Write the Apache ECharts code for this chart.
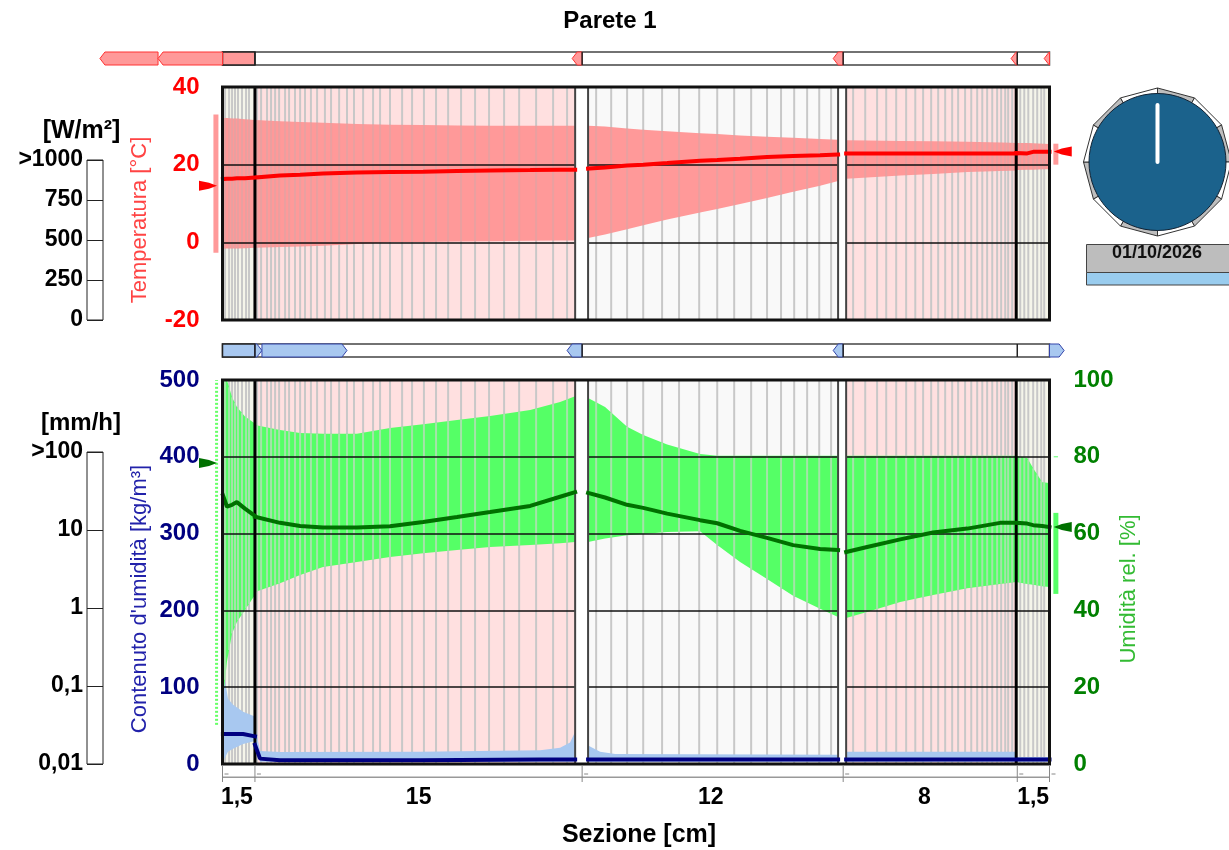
<!DOCTYPE html>
<html>
<head>
<meta charset="utf-8">
<style>
  html, body { margin: 0; padding: 0; background: #fff; }
  #chart { width: 1229px; height: 850px; }
</style>
<script src="https://cdn.jsdelivr.net/npm/echarts@6/dist/echarts.min.js"></script>
</head>
<body>
<div id="chart"></div>
<script>
// strati, in cm dal bordo esterno
const layerEdges = [0, 1.53, 16.63, 17.24, 29.03, 29.41, 37.43, 39]
const layerKinds = ['plaster', 'brick', 'gap', 'wood', 'gap', 'brick', 'plaster']
const stripEdges = [1.53, 16.96, 29.27, 37.48]
const sectionX = [0.68, 9.25, 23.03, 33.1, 38.23]
const sectionLabels = ['1,5', '15', '12', '8', '1,5']

// griglia di calcolo
const cellEdges = [
  0.12, 0.31, 0.45, 0.59, 0.73, 0.92, 1.11, 1.25,
  1.63, 1.82, 2.10, 2.29, 2.48, 2.67, 2.95, 3.14, 3.42, 3.66, 3.89, 4.17, 4.46, 4.83, 5.12, 5.50, 5.87, 6.20, 6.63, 7.10, 7.43, 7.90,
  8.47, 8.94, 9.50, 10.07, 10.64, 11.25, 11.91, 12.57, 13.28, 13.99, 14.79, 15.59, 16.25,
  17.62, 18.33, 19.08, 19.84, 20.73, 21.53, 22.48, 23.33, 24.13, 24.93, 25.68, 26.34, 26.96, 27.57, 28.14, 28.70,
  29.74, 30.31, 30.87, 31.30, 31.77, 32.24, 32.67, 33.04, 33.42, 33.75, 34.08, 34.41, 34.69, 35.02, 35.31, 35.59, 35.83, 36.06, 36.30, 36.53, 36.72, 36.91, 37.05, 37.24,
  37.62, 37.81, 38.0, 38.23, 38.42, 38.61, 38.75
]

// posizioni di lettura per temperatura e umidita'
const stations = [
  0.02, 0.21, 0.45, 0.68, 1.06, 1.53,
  1.53, 2.71, 3.66, 4.74, 6.34, 7.90, 9.46, 11.06, 12.62, 14.51, 15.92, 16.63,
  17.24, 18.04, 19.08, 19.84, 20.97, 22.52, 23.33, 24.41, 25.68, 26.91, 28.18, 29.03,
  29.41, 30.40, 31.96, 33.51, 35.12, 36.67, 37.43,
  37.43, 37.95, 38.23, 38.66, 39.0
]
const stationRanges = [[0, 5], [6, 17], [18, 29], [30, 36], [37, 41]]

const tempHigh = [
  32, 32, 31.9, 31.9, 31.7, 31.5,
  31.5, 31.2, 31, 30.8, 30.5, 30.3, 30.2, 30.1, 30, 30, 30, 30,
  30, 29.8, 29.3, 29, 28.6, 28.1, 27.9, 27.5, 27.2, 26.9, 26.6, 26.4,
  26.3, 26.2, 26.1, 26, 25.9, 25.7, 25.6,
  25.6, 25.6, 25.5, 25.4, 25.3
]
const tempLow = [
  -1.6, -1.6, -1.6, -1.6, -1.5, -1.4,
  -1.4, -1.2, -1.1, -0.85, -0.4, 0, 0.1, 0.2, 0.3, 0.4, 0.45, 0.5,
  1.1, 2.0, 3.4, 4.4, 5.9, 7.7, 8.6, 9.9, 11.4, 13, 14.6, 15.8,
  16.4, 16.7, 17.2, 17.6, 18.1, 18.4, 18.5,
  18.6, 18.7, 18.7, 18.8, 18.8
]
const tempMean = [
  16.3, 16.4, 16.4, 16.5, 16.5, 16.7,
  16.7, 17.2, 17.4, 17.7, 18, 18.1, 18.2, 18.4, 18.5, 18.6, 18.7, 18.7,
  19.0, 19.3, 19.8, 20, 20.4, 21, 21.2, 21.5, 22, 22.2, 22.4, 22.6,
  22.9, 22.9, 22.9, 22.9, 22.9, 22.9, 22.9,
  23, 22.9, 23.3, 23.3, 23.3
]

const rhHigh = [
  100, 100, 95.5, 93, 90.5, 88.7,
  88.3, 87, 86.2, 86, 86, 87.5, 88.5, 89.6, 90.6, 92.2, 94.3, 95.8,
  95.3, 93, 87.8, 85.7, 83.2, 80.7, 80.3, 80.3, 80.3, 80.3, 80.3, 80.3,
  80.3, 80.3, 80.3, 80.3, 80.3, 80.3, 80.3,
  80.3, 79.7, 77, 73.4, 73.2
]
const rhLow = [
  16.7, 26.6, 34, 37, 40.1, 44,
  44.8, 47.1, 49.2, 51.3, 52.6, 53.9, 54.9, 55.7, 56.5, 57, 57.5, 57.8,
  57.8, 58.7, 59.6, 59.9, 60.4, 60.6, 57, 52.6, 48.2, 43.8, 40.4, 38.3,
  38, 39.6, 42.2, 44, 45.8, 46.9, 47.4,
  47.4, 46.9, 46.7, 46.3, 46.1
]
const rhMean = [
  70, 67, 67.5, 68.2, 66.5, 64.6,
  64.4, 62.8, 62, 61.6, 61.6, 61.9, 63, 64.3, 65.6, 67.2, 69.6, 70.8,
  70.6, 69.4, 67.5, 66.7, 65.2, 63.5, 62.7, 60.7, 58.9, 57, 56, 55.7,
  55.2, 56.5, 58.5, 60.3, 61.3, 62.8, 62.8,
  62.8, 62.6, 62.2, 62, 61.7
]

// contenuto d'umidita'
const waterX = [
  0.02, 0.26, 0.5, 0.97, 1.53,
  1.53, 1.77, 2.71, 9.32, 14.98, 15.92, 16.39, 16.63,
  17.24, 17.81, 18.52, 29.03,
  29.41, 37.43,
  37.43, 39.0
]
const waterRanges = [[0, 4], [5, 12], [13, 16], [17, 18], [19, 20]]
const waterHigh = [125, 85, 77, 68, 62, 50, 17, 15.5, 16, 18, 21, 28, 42, 24, 16, 13, 12, 16, 16, 9, 9]
const waterLow = [3, 16, 20, 26, 30, 30, 3, 3, 3, 3, 3, 3, 3, 3, 3, 3, 3, 3, 3, 3, 3]
const waterMean = [39, 39, 39, 39, 36, 25, 7, 5, 5, 6, 6, 6, 6, 6, 6, 6, 6, 6, 6, 6, 6]

// condizioni al contorno [x, min, max, attuale]
const tempBoundary = [[-0.26, -2.7, 32.9, 14.6], [39.2, 20, 25.4, 23.4]]
const rhBoundaryLeft = [-0.26, 10.2, 100, 78.4]
const rhBoundaryRight = [39.2, 44.3, 65.4, 61.7]

// flussi sulle due barre [da, a]
const heatFlux = [[-3.04, -5.78], [0, -3.04], [16.96, 16.49], [29.27, 28.80], [37.48, 37.19], [39, 38.75]]
const moistureFlux = [[1.53, 1.86], [1.86, 5.87], [16.96, 16.25], [29.27, 28.80], [39, 39.69]]

// radiazione, 12 settori a partire dal nord
const gaugeSectors = [1, 0, 1, 0, 1, 0, 1, 0, 1, 0, 1, 0]
const gaugeNeedle = 0.797

const tempTicks = [-20, 0, 20, 40]
const loadTicks = ['0', '250', '500', '750', '>1000']
const rainTicks = ['0,01', '0,1', '1', '10', '>100']

const FONT = 'Liberation Sans'
const chart = echarts.init(document.getElementById('chart'))

function plainX(gridIndex, min, max) {
  return { type: 'value', gridIndex: gridIndex, min: min, max: max, show: false }
}
function plainY(gridIndex, min, max) {
  return { type: 'value', gridIndex: gridIndex, min: min, max: max, show: false }
}
function custom(xi, yi, count, z, draw) {
  return {
    type: 'custom', xAxisIndex: xi, yAxisIndex: yi, z: z, silent: true, animation: false, clip: false,
    data: Array.from({ length: count }, (_, i) => i),
    renderItem: (params, api) => draw(params.dataIndex, api)
  }
}
function seg(a, b, color, width, dash) {
  return { type: 'line', shape: { x1: a[0], y1: a[1], x2: b[0], y2: b[1] }, style: { stroke: color, lineWidth: width, lineDash: dash } }
}
function poly(points, fill, stroke, width) {
  return { type: 'polygon', shape: { points: points }, style: { fill: fill, stroke: stroke, lineWidth: width || 0 } }
}
function box(a, b, fill, stroke, width) {
  return { type: 'rect', shape: { x: Math.min(a[0], b[0]), y: Math.min(a[1], b[1]), width: Math.abs(a[0] - b[0]), height: Math.abs(a[1] - b[1]) }, style: { fill: fill, stroke: stroke, lineWidth: width || 0 } }
}

// sfondi degli strati
function layerSeries(xi, yi, ymin, ymax) {
  const bg = { plaster: '#F5F5EA', brick: '#FFE0E0', wood: '#F9F9F9' }
  const kinds = layerKinds.map((k, i) => [k, i]).filter(k => k[0] != 'gap')
  return custom(xi, yi, kinds.length, 1, (i, api) => {
    const n = kinds[i][1]
    return box(api.coord([layerEdges[n], ymin]), api.coord([layerEdges[n + 1], ymax]), bg[kinds[i][0]])
  })
}
function gapSeries(xi, yi, ymin, ymax) {
  const gaps = layerKinds.map((k, i) => [k, i]).filter(k => k[0] == 'gap')
  return custom(xi, yi, gaps.length, 4, (i, api) => {
    const n = gaps[i][1]
    return box(api.coord([layerEdges[n], ymin]), api.coord([layerEdges[n + 1], ymax]), '#fff')
  })
}
function edgeSeries(xi, yi, ymin, ymax) {
  const inner = layerEdges.slice(1, -1)
  return custom(xi, yi, inner.length, 4, (i, api) => {
    const thick = inner[i] == 1.53 || inner[i] == 37.43
    return seg(api.coord([inner[i], ymin]), api.coord([inner[i], ymax]), thick ? '#000' : '#444', thick ? 3 : 2)
  })
}
function frameSeries(xi, yi, ymin, ymax) {
  return custom(xi, yi, 1, 6, (i, api) => box(api.coord([0, ymin]), api.coord([39, ymax]), 'none', '#111', 3))
}
function cellSeries(xi, yi, ymin, ymax) {
  return custom(xi, yi, cellEdges.length, 1, (i, api) =>
    seg(api.coord([cellEdges[i], ymin]), api.coord([cellEdges[i], ymax]), '#C8C8C8', 2))
}
// fascia min-max disegnata per strato
function bandSeries(xi, yi, xs, low, high, ranges, color, z) {
  return custom(xi, yi, ranges.length, z, (i, api) => {
    const pts = []
    for (let k = ranges[i][0]; k <= ranges[i][1]; k++) pts.push(api.coord([xs[k], high[k]]))
    for (let k = ranges[i][1]; k >= ranges[i][0]; k--) pts.push(api.coord([xs[k], low[k]]))
    return poly(pts, color)
  })
}
// le righe della griglia si intravedono attraverso la fascia
function readAt(x, arr) {
  for (const r of stationRanges) {
    for (let k = r[0]; k < r[1]; k++) {
      if (x >= stations[k] && x <= stations[k + 1]) {
        return arr[k] + (arr[k + 1] - arr[k]) * (x - stations[k]) / (stations[k + 1] - stations[k])
      }
    }
  }
  return null
}
function bandCellSeries(xi, yi, low, high, color) {
  return custom(xi, yi, cellEdges.length, 2, (i, api) => {
    const x = cellEdges[i]
    return seg(api.coord([x, readAt(x, low)]), api.coord([x, readAt(x, high)]), color, 2)
  })
}
function meanLine(xi, yi, xs, values, ranges, color) {
  const data = []
  ranges.forEach(r => {
    for (let k = r[0]; k <= r[1]; k++) data.push([xs[k], values[k]])
    data.push([xs[r[1]], null])
  })
  return {
    type: 'line', xAxisIndex: xi, yAxisIndex: yi, z: 5, silent: true, animation: false,
    symbol: 'none', connectNulls: false, data: data,
    lineStyle: { color: color, width: 4, cap: 'square' }
  }
}
// freccia a bandiera del valore attuale
function flag(api, x, y, dir) {
  const tip = api.coord([x, y])
  const p = (dx, dy) => [tip[0] + dir * dx, tip[1] + dy]
  return [p(0, 0), p(8, -3), p(18, -5), p(18, 5), p(8, 3)]
}
function stripSeries(xi, yi, flux, fill, stroke) {
  const base = custom(xi, yi, 1, 2, (i, api) => ({
    type: 'group',
    children: [
      box(api.coord([0, 0]), api.coord([39, 1]), '#fff', '#444', 1.5),
      box(api.coord([0, 0]), api.coord([1.53, 1]), fill, '#222', 1.5)
    ]
  }))
  const arrows = custom(xi, yi, flux.length, 3, (i, api) => {
    const from = flux[i][0], to = flux[i][1]
    const dir = to > from ? 1 : -1
    const a = api.coord([from, 0]), b = api.coord([from, 1])
    const c = api.coord([to, 0]), d = api.coord([to, 1])
    const shoulder = Math.abs(c[0] - a[0]) < 5 ? a[0] : c[0] - dir * 5
    return poly([a, [shoulder, a[1]], [c[0], (a[1] + b[1]) / 2], [shoulder, b[1]], b], fill, stroke, 1)
  })
  const marks = custom(xi, yi, stripEdges.length, 4, (i, api) =>
    seg(api.coord([stripEdges[i], 0]), api.coord([stripEdges[i], 1]), '#222', 1.5))
  return [base, arrows, marks]
}

const gridPlot = { left: 222.5, width: 827 }
const grid = [
  { left: gridPlot.left, width: gridPlot.width, top: 87, height: 233 },
  { left: gridPlot.left, width: gridPlot.width, top: 380, height: 384 },
  { left: gridPlot.left, width: gridPlot.width, top: 52, height: 13 },
  { left: gridPlot.left, width: gridPlot.width, top: 344, height: 13 },
  { left: gridPlot.left, width: gridPlot.width, top: 766, height: 16 },
  { left: 87, width: 16, top: 160, height: 160, show: true, borderColor: '#222', borderWidth: 1 },
  { left: 87, width: 16, top: 452, height: 312, show: true, borderColor: '#222', borderWidth: 1 },
  { left: 1086, width: 143, top: 90.5, height: 143 }
]

const boldLabel = (color, size, margin) => ({
  fontFamily: FONT, fontWeight: 'bold', fontSize: size, color: color, margin: margin, padding: [4, 0, 0, 0]
})
const blackSplit = { show: true, lineStyle: { color: '#111', width: 1.5 } }

const option = {
  animation: false,
  backgroundColor: '#fff',
  grid: grid,
  xAxis: [
    plainX(0, 0, 39), plainX(1, 0, 39), plainX(2, 0, 39), plainX(3, 0, 39), plainX(4, 0, 39),
    plainX(5, 0, 1), plainX(6, 0, 1), plainX(7, -1, 1)
  ],
  yAxis: [
    {
      type: 'value', gridIndex: 0, min: tempTicks[0], max: tempTicks[3], interval: 20, z: 3,
      axisLine: { show: false }, axisTick: { show: false }, splitLine: blackSplit,
      axisLabel: boldLabel('#FF0000', 24, 23)
    },
    {
      type: 'value', gridIndex: 1, min: 0, max: 500, interval: 100, z: 3,
      axisLine: { show: false }, axisTick: { show: false }, splitLine: blackSplit,
      axisLabel: boldLabel('#000080', 24, 23)
    },
    {
      type: 'value', gridIndex: 1, position: 'right', min: 0, max: 100, interval: 20,
      axisLine: { show: false }, axisTick: { show: false }, splitLine: { show: false },
      axisLabel: boldLabel('#008000', 24, 24)
    },
    plainY(2, 0, 1), plainY(3, 0, 1), plainY(4, 0, 1),
    {
      type: 'value', gridIndex: 5, min: 0, max: 1000, interval: 250,
      axisLine: { show: false }, axisTick: { show: false },
      splitLine: { show: true, lineStyle: { color: '#222', width: 1 } },
      axisLabel: Object.assign(boldLabel('#000', 23, 4), { formatter: (v) => loadTicks[v / 250] })
    },
    {
      type: 'log', logBase: 10, gridIndex: 6, min: 0.01, max: 100,
      axisLine: { show: false }, axisTick: { show: false }, minorTick: { show: false },
      splitLine: { show: true, lineStyle: { color: '#222', width: 1 } },
      axisLabel: Object.assign(boldLabel('#000', 23, 4), { formatter: (v) => rainTicks[Math.round(Math.log10(v)) + 2] })
    },
    plainY(7, -1, 1)
  ],
  series: [
    // grafico temperatura
    layerSeries(0, 0, -20, 40),
    cellSeries(0, 0, -20, 40),
    bandSeries(0, 0, stations, tempLow, tempHigh, stationRanges, '#FF9999', 2),
    bandCellSeries(0, 0, tempLow, tempHigh, 'rgba(200,170,170,0.4)'),
    gapSeries(0, 0, -20, 40),
    edgeSeries(0, 0, -20, 40),
    meanLine(0, 0, stations, tempMean, stationRanges, '#FF0000'),
    frameSeries(0, 0, -20, 40),
    custom(0, 0, tempBoundary.length, 3, (i, api) => {
      const b = tempBoundary[i]
      const dir = i == 0 ? -1 : 1
      const barX = b[0] + (i == 0 ? -0.05 : 0.1)
      return {
        type: 'group',
        children: [
          seg(api.coord([barX, b[1]]), api.coord([barX, b[2]]), '#FF9999', 5),
          poly(flag(api, b[0], b[3], dir), '#FF0000')
        ]
      }
    }),

    // grafico umidita'
    layerSeries(1, 1, 0, 500),
    cellSeries(1, 1, 0, 500),
    bandSeries(1, 1, waterX, waterLow, waterHigh, waterRanges, '#A8C8F0', 2),
    bandSeries(1, 2, stations, rhLow, rhHigh, stationRanges, '#55FF66', 2),
    bandCellSeries(1, 2, rhLow, rhHigh, 'rgba(200,215,200,0.7)'),
    gapSeries(1, 1, 0, 500),
    edgeSeries(1, 1, 0, 500),
    meanLine(1, 1, waterX, waterMean, waterRanges, '#000080'),
    meanLine(1, 2, stations, rhMean, stationRanges, '#007000'),
    frameSeries(1, 1, 0, 500),
    custom(1, 2, 1, 3, (i, api) => ({
      type: 'group',
      children: [
        seg(api.coord([rhBoundaryLeft[0] - 0.02, rhBoundaryLeft[1]]), api.coord([rhBoundaryLeft[0] - 0.02, rhBoundaryLeft[2]]), '#66FF66', 3, [2, 2]),
        poly(flag(api, rhBoundaryLeft[0], rhBoundaryLeft[3], -1), '#007000'),
        seg(api.coord([rhBoundaryRight[0] + 0.1, rhBoundaryRight[1]]), api.coord([rhBoundaryRight[0] + 0.1, rhBoundaryRight[2]]), '#55FF66', 5),
        seg(api.coord([rhBoundaryRight[0], 80]), api.coord([rhBoundaryRight[0] + 0.2, 80]), '#55FF66', 1),
        poly(flag(api, rhBoundaryRight[0], rhBoundaryRight[3], 1), '#007000')
      ]
    })),

    // barre dei flussi
    ...stripSeries(2, 3, heatFlux, '#FF9999', '#FF3333'),
    ...stripSeries(3, 4, moistureFlux, '#A8C8F0', '#3344AA'),

    // quote degli strati
    custom(4, 5, 1, 2, (i, api) => seg(api.coord([0, 0.3]), api.coord([39, 0.3]), '#999', 1.5)),
    custom(4, 5, stripEdges.length + 2, 2, (i, api) => {
      const x = [0, ...stripEdges, 39][i]
      const p = api.coord([x, 0.5])
      return {
        type: 'group',
        children: [
          seg(api.coord([x, 0]), api.coord([x, 1]), '#888', 1),
          seg([p[0] + 2, p[1]], [p[0] + 6, p[1]], '#888', 1)
        ]
      }
    }),
    custom(4, 5, sectionX.length, 2, (i, api) => {
      const p = api.coord([sectionX[i], 0])
      return {
        type: 'text', x: p[0], y: p[1] + 16,
        style: { text: sectionLabels[i], fill: '#000', font: 'bold 23px "' + FONT + '"', textAlign: 'center', textVerticalAlign: 'middle' }
      }
    }),

    // indicatore di radiazione
    custom(7, 8, gaugeSectors.length, 2, (i, api) => {
      const step = Math.PI / 6
      const at = (a, r) => api.coord([r * Math.sin(a), r * Math.cos(a)])
      return poly([at(0, 0), at(i * step, 1.035), at((i + 1) * step, 1.035)], gaugeSectors[i] ? '#BEBEBE' : '#fff', '#333', 1)
    }),
    custom(7, 8, 1, 3, (i, api) => {
      const c = api.coord([0, 0])
      return {
        type: 'circle', shape: { cx: c[0], cy: c[1], r: api.size([0.958, 0])[0] },
        style: { fill: '#1B628C', stroke: '#123', lineWidth: 1 }
      }
    }),
    custom(7, 8, 1, 4, (i, api) => ({
      type: 'line',
      shape: { x1: api.coord([0, 0])[0], y1: api.coord([0, 0])[1], x2: api.coord([0, gaugeNeedle])[0], y2: api.coord([0, gaugeNeedle])[1] },
      style: { stroke: '#fff', lineWidth: 4, lineCap: 'round' }
    }))
  ],
  graphic: [
    { type: 'text', x: 610, y: 21, style: { text: 'Parete 1', fill: '#000', font: 'bold 24px "' + FONT + '"', textAlign: 'center', textVerticalAlign: 'middle' } },
    { type: 'text', x: 639, y: 835, style: { text: 'Sezione [cm]', fill: '#000', font: 'bold 25px "' + FONT + '"', textAlign: 'center', textVerticalAlign: 'middle' } },
    { type: 'text', x: 81.5, y: 131, style: { text: '[W/m²]', fill: '#000', font: 'bold 25px "' + FONT + '"', textAlign: 'center', textVerticalAlign: 'middle' } },
    { type: 'text', x: 81, y: 423, style: { text: '[mm/h]', fill: '#000', font: 'bold 24px "' + FONT + '"', textAlign: 'center', textVerticalAlign: 'middle' } },
    { type: 'text', x: 140, y: 220, rotation: Math.PI / 2, style: { text: 'Temperatura [°C]', fill: '#FF4444', font: '22px "' + FONT + '"', textAlign: 'center', textVerticalAlign: 'middle' } },
    { type: 'text', x: 140, y: 599, rotation: Math.PI / 2, style: { text: "Contenuto d'umidità [kg/m³]", fill: '#2222AA', font: '22px "' + FONT + '"', textAlign: 'center', textVerticalAlign: 'middle' } },
    { type: 'text', x: 1129, y: 589, rotation: Math.PI / 2, style: { text: 'Umidità rel. [%]', fill: '#33BB33', font: '22px "' + FONT + '"', textAlign: 'center', textVerticalAlign: 'middle' } },
    { type: 'rect', shape: { x: 1086.5, y: 244.5, width: 145, height: 28 }, style: { fill: '#BDBDBD', stroke: '#444', lineWidth: 1 } },
    { type: 'rect', shape: { x: 1086.5, y: 272.5, width: 145, height: 12.5 }, style: { fill: '#99CCEE', stroke: '#444', lineWidth: 1 } },
    { type: 'text', x: 1157, y: 253, style: { text: '01/10/2026', fill: '#111', font: 'bold 18px "' + FONT + '"', textAlign: 'center', textVerticalAlign: 'middle' } }
  ]
}
chart.setOption(option)
</script>
</body>
</html>
